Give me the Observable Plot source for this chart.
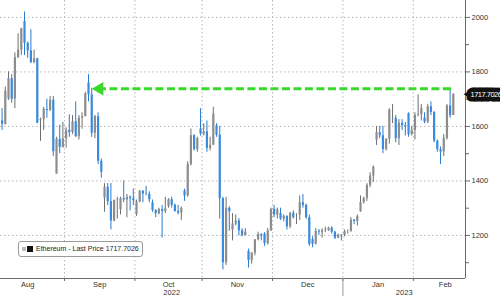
<!DOCTYPE html>
<html><head><meta charset="utf-8">
<script src="https://cdn.jsdelivr.net/npm/d3@7"></script>
<script src="https://cdn.jsdelivr.net/npm/@observablehq/plot@0.6"></script>
<style>
body{margin:0;background:#fff;}
#wrap{position:relative;width:500px;height:296px;overflow:hidden;font-family:"Liberation Sans",Arial,sans-serif;}
#legend{position:absolute;left:18px;top:241px;height:14px;padding:0 3px 0 3px;border:1px solid #9a9a9a;border-radius:3px;background:#fff;font-size:7px;line-height:14px;color:#222;display:flex;align-items:center;white-space:nowrap}
#legend .s1{display:inline-block;width:4px;height:4px;background:#bbb;margin-right:1px}
#legend .s2{display:inline-block;width:6px;height:6px;background:#111;margin-right:3px}
svg{display:block}
.pricelab text{letter-spacing:-0.5px}
</style></head><body><div id="wrap"><div id="legend"><span class="s1"></span><span class="s2"></span><span id="legtext"></span></div></div>
<script>
// Ethereum daily bars (weekdays), 2022-08-04 .. 2023-02-17
const firstDay = "2022-08-04";
const months = ["Aug","Sep","Oct","Nov","Dec","Jan","Feb"];
const years = ["2022","2023"];
const seriesName = "Ethereum - Last Price";
const lastPrice = 1717.7026;
const arrowLevel = 1738;

const open = [
 1620,1608,1700,1775,1700,1852,1880,1985,1905,1877,1834,1848,1622,1625,1662,1658,1696,1425,1553,1523,
 1554,1586,1578,1617,1562,1630,1636,1760,1716,1575,1636,1472,1337,1377,1324,1253,1328,1295,1335,1330,1340,1335,
 1276,1323,1362,1352,1351,1320,1291,1280,1295,1288,1306,1331,1311,1288,1282,1363,1345,1460,1566,1515,1590,
 1572,1580,1519,1531,1602,1568,1335,1100,1300,1220,1242,1253,1217,1200,1142,1108,1135,1184,1204,1205,1170,1217,
 1296,1275,1280,1260,1270,1232,1281,1275,1275,1320,1310,1265,1185,1168,1215,1212,1218,1218,1227,1212,1190,1201,
 1200,1214,1214,1256,1251,1287,1321,1336,1384,1418,1550,1577,1566,1515,1553,1628,1630,1555,1612,1603,1647,1570,
 1585,1641,1643,1630,1616,1672,1651,1546,1515,1506,1556,1675,1640];
const high = [
 1665,1745,1800,1790,1870,1940,1960,2020,1910,1955,1880,1850,1630,1670,1700,1710,1710,1560,1605,1615,
 1595,1643,1640,1690,1640,1650,1725,1790,1740,1640,1650,1480,1390,1390,1390,1330,1340,1340,1400,1350,1345,1370,
 1330,1365,1365,1380,1360,1330,1295,1300,1310,1340,1335,1340,1315,1310,1305,1370,1470,1590,1570,1560,1665,
 1610,1620,1560,1670,1610,1600,1340,1340,1305,1280,1275,1262,1225,1225,1150,1137,1185,1212,1205,1210,1225,1300,
 1310,1300,1300,1275,1272,1285,1290,1280,1345,1350,1315,1275,1195,1225,1222,1225,1230,1230,1232,1215,1205,1203,
 1220,1220,1265,1258,1275,1345,1340,1390,1430,1455,1600,1600,1600,1555,1665,1680,1640,1625,1625,1615,1650,1600,
 1650,1715,1680,1650,1680,1690,1655,1550,1525,1570,1680,1740,1720];
const low = [
 1585,1605,1695,1685,1665,1850,1860,1860,1850,1830,1830,1610,1545,1585,1630,1655,1490,1425,1500,1520,
 1520,1560,1570,1560,1550,1590,1635,1690,1560,1555,1460,1410,1285,1310,1220,1250,1260,1275,1320,1265,1290,1310,
 1270,1320,1320,1345,1320,1285,1265,1275,1190,1280,1300,1300,1285,1275,1255,1325,1340,1455,1510,1505,1565,
 1565,1505,1510,1530,1560,1260,1073,1090,1215,1180,1235,1198,1195,1198,1080,1095,1125,1180,1180,1160,1165,1215,
 1265,1260,1255,1250,1220,1225,1260,1240,1255,1300,1260,1160,1155,1165,1200,1190,1210,1215,1205,1185,1188,1180,
 1195,1205,1212,1240,1235,1285,1315,1325,1375,1395,1530,1555,1500,1510,1535,1610,1540,1530,1585,1565,1560,1565,
 1550,1635,1620,1610,1610,1640,1540,1505,1460,1490,1550,1630,1640];
const close = [
 1608,1730,1775,1700,1852,1880,1958,1905,1877,1834,1848,1612,1625,1662,1658,1696,1507,1553,1523,1554,
 1586,1577,1617,1562,1630,1636,1719,1716,1575,1636,1472,1432,1377,1324,1253,1328,1330,1335,1330,1340,1335,1328,
 1323,1362,1352,1351,1331,1291,1280,1295,1288,1297,1331,1311,1288,1282,1299,1345,1460,1566,1515,1555,1572,
 1580,1519,1531,1645,1568,1335,1100,1300,1287,1242,1253,1217,1200,1212,1108,1135,1184,1204,1198,1170,1217,1296,
 1275,1294,1260,1270,1232,1281,1265,1275,1320,1310,1265,1167,1168,1215,1212,1218,1220,1227,1212,1190,1201,1199,
 1214,1214,1256,1251,1269,1321,1336,1384,1418,1450,1577,1566,1515,1553,1660,1630,1555,1612,1603,1598,1570,1585,
 1641,1643,1665,1616,1672,1651,1546,1515,1506,1556,1675,1640,1717.7026];
const yMajor = [1200,1400,1600,1800,2000];
const yMinor = [1100,1300,1500,1700,1900];

// ---- build table ----
const allDays = d3.utcDay.range(new Date(Date.UTC(2022,7,1)), new Date(Date.UTC(2023,2,1)))
  .filter(d => d.getUTCDay() % 6 !== 0);
const offset = allDays.findIndex(d => d.toISOString().slice(0,10) === firstDay);
const bars = close.map((c,i) => ({i: i + 0.5, open: open[i], high: high[i], low: low[i], close: c, up: c >= open[i]}));
const monthGroups = d3.groups(allDays.map((d,k) => ({d, k: k - offset})), o => o.d.getUTCFullYear()*12 + o.d.getUTCMonth());
const monthInfo = monthGroups.map(([key, arr], j) => ({
  label: months[j], start: arr[0].k, mid: arr[0].k + arr.length/2, year: Math.floor(key/12)
}));
const boundaries = monthInfo.slice(1).map(m => m.start);
const xMax = close.length + 3.3;
const yearStart = monthInfo.find(m => m.year === 2023).start;
const yearLabels = [{t: years[0], x: (0 + yearStart)/2}, {t: years[1], x: (yearStart + xMax)/2}];
const yMin = 1042, yMax = 2062;
const upC = "#6f6f6f", dnC = "#2b7bd0", green = "#39d92c";

document.getElementById("legtext").textContent = `${seriesName} ${lastPrice}`;

const chart = Plot.plot({
  width: 500, height: 296,
  marginTop: 0, marginRight: 35, marginBottom: 18, marginLeft: 0,
  style: {fontFamily: '"Liberation Sans", Arial, sans-serif', fontSize: "8px", color: "#333", background: "transparent", overflow: "visible"},
  x: {type: "linear", domain: [0, xMax], axis: null},
  y: {domain: [yMin, yMax], axis: null},
  marks: [
    Plot.ruleY(yMajor, {stroke: "#b8b8b8", strokeDasharray: "1.5,2.5"}),
    Plot.ruleX(boundaries, {stroke: "#b8b8b8", strokeDasharray: "1.5,2.5"}),
    Plot.ruleX(bars, {x: "i", y1: "low", y2: "high", stroke: d => d.up ? upC : dnC, strokeWidth: 1}),
    Plot.ruleX(bars, {x: "i", y1: "open", y2: "close", stroke: d => d.up ? "#8d8d8d" : "#3a8ade", strokeWidth: 2.2}),
    Plot.ruleY([arrowLevel], {x1: 30.6, x2: close.length - 0.4, stroke: green, strokeWidth: 3, strokeDasharray: "8,3.5"}),
    Plot.dot([arrowLevel], {x: 30, y: d => d, symbol: "triangle", rotate: -90, r: 5, fill: green, stroke: "none", dx: 3}),
    Plot.ruleX([xMax], {stroke: "#6a6a6a"}),
    Plot.ruleY([yMin], {x1: 0, x2: xMax, stroke: "#6a6a6a"}),
    Plot.axisY(yMajor, {anchor: "right", tickSize: 4, tickPadding: 2, fontSize: 7.5, tickFormat: d => String(d), stroke: "#6a6a6a", fill: "#333"}),
    Plot.axisY(yMinor, {anchor: "right", tickSize: 3, tickFormat: () => "", stroke: "#6a6a6a"}),
    Plot.axisX(boundaries, {tickSize: 3, tickFormat: () => "", stroke: "#6a6a6a"}),
    Plot.ruleX([yearStart], {y1: yMin, y2: yMin - 18 / (278 / (yMax - yMin)), stroke: "#9a9a9a"}),
    Plot.text(monthInfo, {x: "mid", y: yMin, text: "label", dy: 6, fill: "#333", fontSize: 7.5}),
    Plot.text(yearLabels, {x: "x", y: yMin, text: "t", dy: 14, fill: "#333", fontSize: 7.5}),
    Plot.dot([lastPrice], {x: xMax, y: d => d, symbol: "triangle", rotate: -90, r: 3.5, fill: "#111", dx: 3.5}),
    Plot.text([lastPrice], {x: xMax, y: d => d, text: d => String(d), dx: 5, textAnchor: "start", fill: "#fff",
      stroke: "#111", strokeWidth: 9, strokeLinejoin: "round", fontSize: 7.5, className: "pricelab"})
  ]
});
document.getElementById("wrap").prepend(chart);
</script>
</body></html>
